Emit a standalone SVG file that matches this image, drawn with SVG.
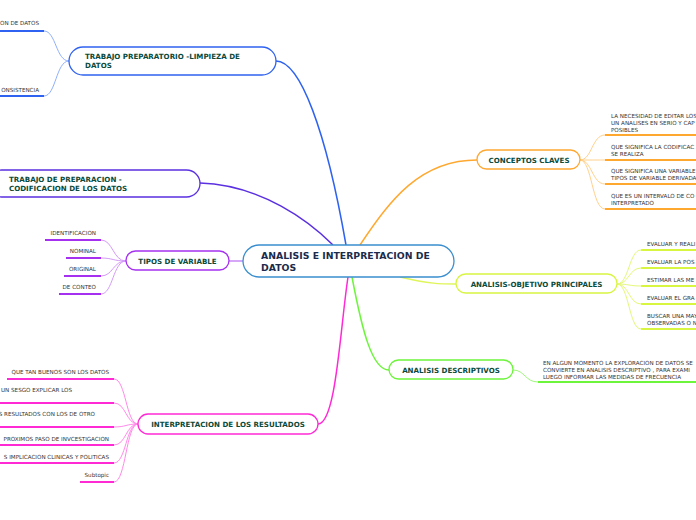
<svg xmlns="http://www.w3.org/2000/svg" width="696" height="520" viewBox="0 0 696 520">
<style>
.node{fill:#fff;stroke-width:1.3}
.nt{font-family:"DejaVu Sans",Verdana,sans-serif;font-weight:bold;font-size:7.1px;fill:#0b4a3a}
.ct{font-family:"DejaVu Sans",Verdana,sans-serif;font-size:5.6px;fill:#333}
.cen{font-family:"DejaVu Sans",Verdana,sans-serif;font-weight:bold;font-size:9.3px;fill:#1b2b4b}
.ul{stroke-width:2;fill:none}
.c{fill:none;stroke-width:1}
.m{fill:none;stroke-width:1.5}
</style>
<rect width="696" height="520" fill="#fff"/>
<g id="connectors">
<path class="m" d="M276,61 C300,61 326,130 346,245" stroke="#2f62f0"/>
<path class="m" d="M200,183 C262,185 310,222 333,245" stroke="#5a30e0"/>
<path class="m" d="M229,261 L243,261" stroke="#c88af5"/>
<path class="m" d="M348,277 C340,330 336,424 318,424" stroke="#ff2ad4"/>
<path class="m" d="M360,245 C390,200 420,160 477,160" stroke="#ffa830"/>
<path class="m" d="M400,277 C430,284 440,284 456,284" stroke="#e0f55a"/>
<path class="m" d="M352,277 C362,330 372,370 389,370" stroke="#6cf53a"/>
<path class="c" d="M69,61 C56,61 56,31 44,31" stroke="#8fb0f8"/>
<path class="c" d="M69,61 C56,61 56,96 44,96" stroke="#8fb0f8"/>
<path class="c" d="M126,261 C113,261 113,240 101,240" stroke="#d49af8"/>
<path class="c" d="M126,261 C113,261 113,258 101,258" stroke="#d49af8"/>
<path class="c" d="M126,261 C113,261 113,276 101,276" stroke="#d49af8"/>
<path class="c" d="M126,261 C113,261 113,294 101,294" stroke="#d49af8"/>
<path class="c" d="M138,424 C126,424 126,379 114,379" stroke="#ff8ae8"/>
<path class="c" d="M138,424 C126,424 126,403 114,403" stroke="#ff8ae8"/>
<path class="c" d="M138,424 C126,424 126,427 114,427" stroke="#ff8ae8"/>
<path class="c" d="M138,424 C126,424 126,445 114,445" stroke="#ff8ae8"/>
<path class="c" d="M138,424 C126,424 126,463 114,463" stroke="#ff8ae8"/>
<path class="c" d="M138,424 C126,424 126,482 114,482" stroke="#ff8ae8"/>
<path class="c" d="M580,160 C592,160 592,135 605,135" stroke="#ffd08a"/>
<path class="c" d="M580,160 C592,160 592,160 605,160" stroke="#ffd08a"/>
<path class="c" d="M580,160 C592,160 592,184 605,184" stroke="#ffd08a"/>
<path class="c" d="M580,160 C592,160 592,209 605,209" stroke="#ffd08a"/>
<path class="c" d="M617,284 C629,284 629,250 641,250" stroke="#e6f77a"/>
<path class="c" d="M617,284 C629,284 629,268 641,268" stroke="#e6f77a"/>
<path class="c" d="M617,284 C629,284 629,286 641,286" stroke="#e6f77a"/>
<path class="c" d="M617,284 C629,284 629,304 641,304" stroke="#e6f77a"/>
<path class="c" d="M617,284 C629,284 629,329 641,329" stroke="#e6f77a"/>
<path class="c" d="M513,370 C525,370 525,382 538,382" stroke="#9ef77a"/>
</g>
<g id="central">
<rect class="node" x="243" y="245" width="211" height="32" rx="16" stroke="#3a8ed0"/>
<text class="cen" x="261" y="259">ANALISIS E INTERPRETACION DE</text>
<text class="cen" x="261" y="270.5">DATOS</text>
</g>
<g id="n1">
<rect class="node" x="69" y="47" width="207" height="28" rx="14" stroke="#2f62f0"/>
<text class="nt" x="85" y="59">TRABAJO PREPARATORIO -LIMPIEZA DE</text>
<text class="nt" x="85" y="68">DATOS</text>
<text class="ct" x="39" y="25" text-anchor="end">ON DE DATOS</text>
<line class="ul" x1="0" y1="31" x2="44" y2="31" stroke="#2f62f0"/>
<text class="ct" x="39" y="92" text-anchor="end">ONSISTENCIA</text>
<line class="ul" x1="0" y1="96" x2="44" y2="96" stroke="#2f62f0"/>
</g>
<g id="n2">
<rect class="node" x="-12" y="170" width="212" height="27" rx="13.5" stroke="#5a30e0"/>
<text class="nt" x="9" y="181.5">TRABAJO DE PREPARACION -</text>
<text class="nt" x="9" y="190.5">CODIFICACION DE LOS DATOS</text>
</g>
<g id="n3">
<rect class="node" x="126" y="251" width="103" height="19" rx="9.5" stroke="#a530f0"/>
<text class="nt" x="177.5" y="263.5" text-anchor="middle">TIPOS DE VARIABLE</text>
<text class="ct" x="96" y="235" text-anchor="end">IDENTIFICACION</text>
<line class="ul" x1="45" y1="240" x2="101" y2="240" stroke="#a530f0"/>
<text class="ct" x="96" y="253" text-anchor="end">NOMINAL</text>
<line class="ul" x1="66" y1="258" x2="101" y2="258" stroke="#a530f0"/>
<text class="ct" x="96" y="271" text-anchor="end">ORIGINAL</text>
<line class="ul" x1="64" y1="276" x2="101" y2="276" stroke="#a530f0"/>
<text class="ct" x="96" y="289" text-anchor="end">DE CONTEO</text>
<line class="ul" x1="59" y1="294" x2="101" y2="294" stroke="#a530f0"/>
</g>
<g id="n4">
<rect class="node" x="138" y="414" width="180" height="20" rx="10" stroke="#ff2ad4"/>
<text class="nt" x="228" y="427" text-anchor="middle">INTERPRETACION DE LOS RESULTADOS</text>
<text class="ct" x="109" y="374" text-anchor="end">QUE TAN BUENOS SON LOS DATOS</text>
<line class="ul" x1="7" y1="379" x2="114" y2="379" stroke="#ff2ad4"/>
<text class="ct" x="72" y="392" text-anchor="end">UN SESGO EXPLICAR LOS</text>
<line class="ul" x1="0" y1="403" x2="114" y2="403" stroke="#ff2ad4"/>
<text class="ct" x="95" y="416" text-anchor="end">S RESULTADOS CON LOS DE OTRO</text>
<line class="ul" x1="0" y1="427" x2="114" y2="427" stroke="#ff2ad4"/>
<text class="ct" x="109" y="441" text-anchor="end">PROXIMOS PASO DE INVCESTIGACION</text>
<line class="ul" x1="0" y1="445" x2="114" y2="445" stroke="#ff2ad4"/>
<text class="ct" x="109" y="459" text-anchor="end">S IMPLICACION CLINICAS Y POLITICAS</text>
<line class="ul" x1="0" y1="463" x2="114" y2="463" stroke="#ff2ad4"/>
<text class="ct" x="109" y="477" text-anchor="end">Subtopic</text>
<line class="ul" x1="80" y1="482" x2="114" y2="482" stroke="#ff2ad4"/>
</g>
<g id="n5">
<rect class="node" x="477" y="150" width="103" height="19" rx="9.5" stroke="#ffa830"/>
<text class="nt" x="529" y="162.5" text-anchor="middle">CONCEPTOS CLAVES</text>
<text class="ct" x="611" y="118">LA NECESIDAD DE EDITAR LOS</text>
<text class="ct" x="611" y="125">UN ANALISES EN SERIO Y CAP</text>
<text class="ct" x="611" y="131.5">POSIBLES</text>
<line class="ul" x1="605" y1="135" x2="696" y2="135" stroke="#ffa830"/>
<text class="ct" x="611" y="149">QUE SIGNIFICA LA CODIFICAC</text>
<text class="ct" x="611" y="156">SE REALIZA</text>
<line class="ul" x1="605" y1="160" x2="696" y2="160" stroke="#ffa830"/>
<text class="ct" x="611" y="173">QUE SIGNIFICA UNA VARIABLE</text>
<text class="ct" x="611" y="180">TIPOS DE VARIABLE DERIVADA</text>
<line class="ul" x1="605" y1="184" x2="696" y2="184" stroke="#ffa830"/>
<text class="ct" x="611" y="197.5">QUE ES UN INTERVALO DE CO</text>
<text class="ct" x="611" y="204.5">INTERPRETADO</text>
<line class="ul" x1="605" y1="209" x2="696" y2="209" stroke="#ffa830"/>
</g>
<g id="n6">
<rect class="node" x="456" y="274" width="161" height="19" rx="9.5" stroke="#d8f540"/>
<text class="nt" x="536.5" y="286.5" text-anchor="middle">ANALISIS-OBJETIVO PRINCIPALES</text>
<text class="ct" x="647" y="245.5">EVALUAR Y REALI</text>
<line class="ul" x1="641" y1="250" x2="696" y2="250" stroke="#d8f540"/>
<text class="ct" x="647" y="263.5">EVALUAR LA POS</text>
<line class="ul" x1="641" y1="268" x2="696" y2="268" stroke="#d8f540"/>
<text class="ct" x="647" y="281.5">ESTIMAR LAS ME</text>
<line class="ul" x1="641" y1="286" x2="696" y2="286" stroke="#d8f540"/>
<text class="ct" x="647" y="299.5">EVALUAR EL GRA</text>
<line class="ul" x1="641" y1="304" x2="696" y2="304" stroke="#d8f540"/>
<text class="ct" x="647" y="317.5">BUSCAR UNA MAY</text>
<text class="ct" x="647" y="324.5">OBSERVADAS O N</text>
<line class="ul" x1="641" y1="329" x2="696" y2="329" stroke="#d8f540"/>
</g>
<g id="n7">
<rect class="node" x="389" y="360" width="124" height="19" rx="9.5" stroke="#6cf53a"/>
<text class="nt" x="451" y="372.5" text-anchor="middle">ANALISIS DESCRIPTIVOS</text>
<text class="ct" x="543" y="365">EN ALGUN MOMENTO LA EXPLORACION DE DATOS SE</text>
<text class="ct" x="543" y="372">CONVIERTE EN ANALISIS DESCRIPTIVO , PARA EXAMI</text>
<text class="ct" x="543" y="378.5">LUEGO INFORMAR LAS MEDIDAS DE FRECUENCIA</text>
<line class="ul" x1="538" y1="382" x2="696" y2="382" stroke="#6cf53a"/>
</g>
</svg>
